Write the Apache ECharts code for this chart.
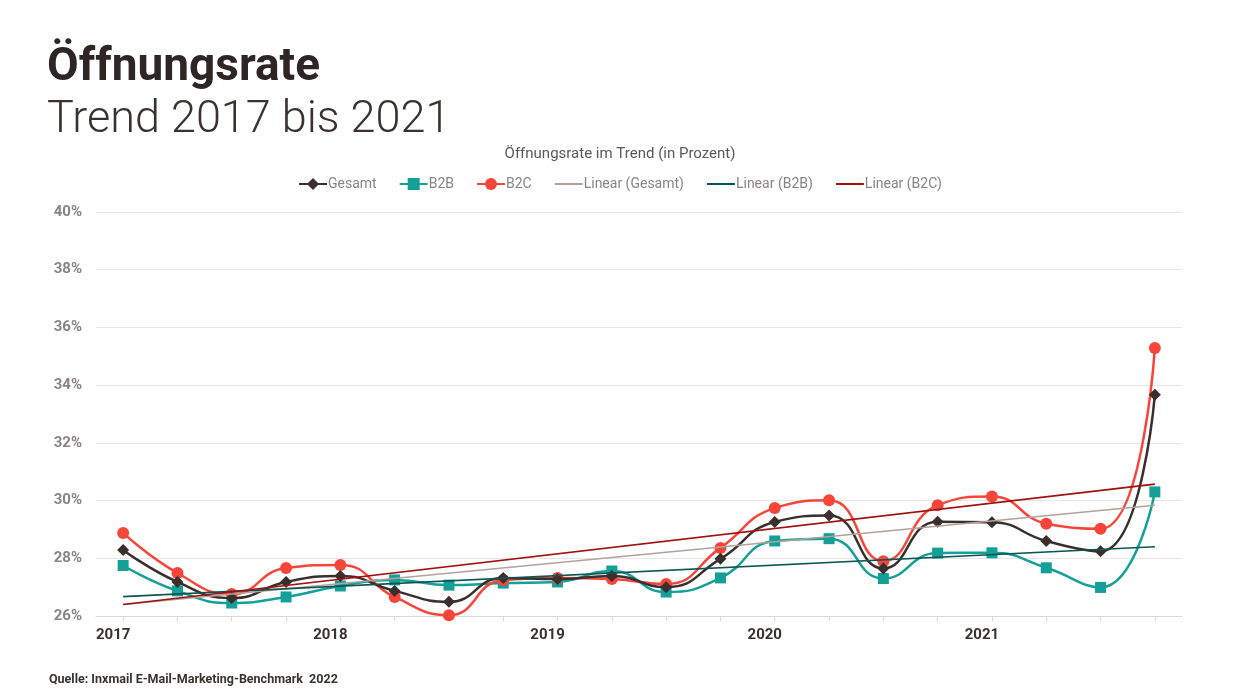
<!DOCTYPE html>
<html>
<head>
<meta charset="utf-8">
<script src="https://cdn.jsdelivr.net/npm/echarts@6/dist/echarts.min.js"></script>
<style>
html,body{margin:0;padding:0;background:#fff;}
#chart{width:1240px;height:698px;}
</style>
</head>
<body>
<div id="chart"></div>
<script>
var categories = ['2017-Q1','2017-Q2','2017-Q3','2017-Q4','2018-Q1','2018-Q2','2018-Q3','2018-Q4','2019-Q1','2019-Q2','2019-Q3','2019-Q4','2020-Q1','2020-Q2','2020-Q3','2020-Q4','2021-Q1','2021-Q2','2021-Q3','2021-Q4'];
var gesamt = [28.29,27.18,26.62,27.18,27.39,26.87,26.49,27.32,27.28,27.39,27.00,27.98,29.26,29.48,27.65,29.27,29.25,28.60,28.24,33.67];
var b2b    = [27.75,26.87,26.45,26.66,27.04,27.25,27.07,27.14,27.18,27.56,26.83,27.32,28.60,28.68,27.30,28.18,28.19,27.67,26.99,30.30];
var b2c    = [28.88,27.49,26.76,27.66,27.77,26.66,26.03,27.25,27.32,27.28,27.11,28.36,29.74,30.01,27.90,29.84,30.14,29.20,29.02,35.29];
// trend line end points (first and last quarter)
var trendGesamt = [26.40, 29.84];
var trendB2B    = [26.67, 28.40];
var trendB2C    = [26.40, 30.57];
var yTicks = {min: 26, max: 40, interval: 2};

function trendData(t){ return [[0, t[0]], [categories.length - 1, t[1]]]; }

var chart = echarts.init(document.getElementById('chart'));
var F = 'Roboto, "Noto Sans", sans-serif';
var noSym = {opacity: 0};
chart.setOption({
  animation: false,
  backgroundColor: '#ffffff',
  title: [
    {text: 'Öffnungsrate', left: 42, top: 40, textStyle: {fontFamily: F, fontSize: 46, fontWeight: 'bold', color: '#2e2624'}},
    {text: 'Trend 2017 bis 2021', left: 42, top: 93, textStyle: {fontFamily: F, fontSize: 45, fontWeight: 300, color: '#3a3230'}},
    {text: 'Öffnungsrate im Trend (in Prozent)', left: 'center', top: 142, textStyle: {fontFamily: F, fontSize: 15, fontWeight: 'normal', color: '#595959'}},
    {text: 'Quelle: Inxmail E-Mail-Marketing-Benchmark  2022', left: 44, top: 668, textStyle: {fontFamily: F, fontSize: 12.5, fontWeight: 'bold', color: '#3a3230'}}
  ],
  legend: {
    top: 172, left: 'center', itemGap: 22, itemWidth: 28, itemHeight: 15,
    textStyle: {fontFamily: F, fontSize: 14, color: '#8c8484', padding: [0,0,0,-4]},
    data: ['Gesamt','B2B','B2C',
      {name: 'Linear (Gesamt)', itemStyle: noSym},
      {name: 'Linear (B2B)', itemStyle: noSym},
      {name: 'Linear (B2C)', itemStyle: noSym}]
  },
  grid: {left: 96, right: 58, top: 212, bottom: 82},
  xAxis: {
    type: 'category', data: categories, boundaryGap: true,
    axisLine: {lineStyle: {color: '#d9d9d9', width: 1}},
    axisTick: {show: true, alignWithLabel: true, interval: 0, length: 5, lineStyle: {color: '#d9d9d9'}},
    axisLabel: {interval: 3, margin: 12, fontFamily: F, fontSize: 15, fontWeight: 'bold', color: '#3a3230',
      padding: [0, 20, 0, 0], formatter: function(v){ return v.slice(0,4); }},
    splitLine: {show: false}
  },
  yAxis: {
    type: 'value', min: yTicks.min, max: yTicks.max, interval: yTicks.interval,
    axisLine: {show: false}, axisTick: {show: false},
    axisLabel: {margin: 14, fontFamily: F, fontSize: 15, fontWeight: 'bold', color: '#8c8484', formatter: '{value}%'},
    splitLine: {lineStyle: {color: '#e6e6e6', width: 1}}
  },
  series: [
    {name: 'Gesamt', type: 'line', data: gesamt, smooth: 0.5, symbol: 'diamond', symbolSize: 12,
      lineStyle: {color: '#3a2f2d', width: 2.5}, itemStyle: {color: '#3a2f2d'}, z: 3},
    {name: 'B2B', type: 'line', data: b2b, smooth: 0.5, symbol: 'rect', symbolSize: 11,
      lineStyle: {color: '#14a098', width: 2.5}, itemStyle: {color: '#14a098'}, z: 2},
    {name: 'B2C', type: 'line', data: b2c, smooth: 0.5, symbol: 'circle', symbolSize: 12,
      lineStyle: {color: '#f8453a', width: 2.5}, itemStyle: {color: '#f8453a'}, z: 2},
    {name: 'Linear (Gesamt)', type: 'line', data: trendData(trendGesamt), symbol: 'none',
      lineStyle: {color: '#b3a29c', width: 1.6}, itemStyle: {color: '#b3a29c'}, z: 4},
    {name: 'Linear (B2B)', type: 'line', data: trendData(trendB2B), symbol: 'none',
      lineStyle: {color: '#0d5550', width: 1.6}, itemStyle: {color: '#0d5550'}, z: 4},
    {name: 'Linear (B2C)', type: 'line', data: trendData(trendB2C), symbol: 'none',
      lineStyle: {color: '#a01010', width: 1.6}, itemStyle: {color: '#a01010'}, z: 4}
  ]
});
</script>
</body>
</html>
